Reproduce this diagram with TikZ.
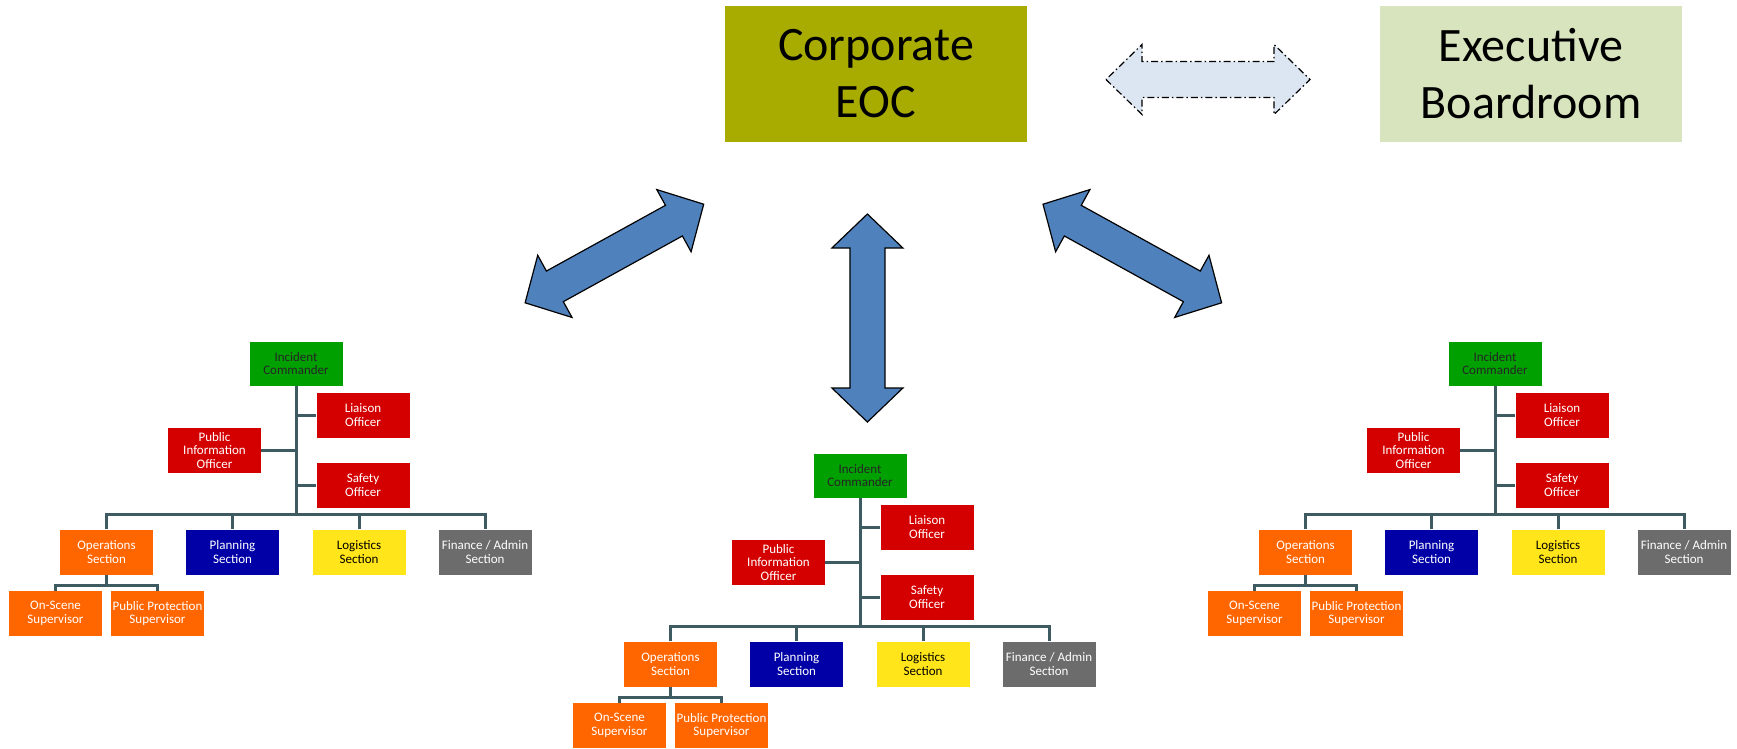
\documentclass[tikz,border=0pt]{standalone}
\usepackage{fontspec}
\setmainfont{Carlito}

\definecolor{eocolive}{RGB}{168,172,0}
\definecolor{boardgreen}{RGB}{215,228,189}
\definecolor{linkblue}{RGB}{220,230,242}
\definecolor{arrowblue}{RGB}{79,129,189}
\definecolor{icgreen}{RGB}{0,160,0}
\definecolor{offred}{RGB}{212,0,0}
\definecolor{secorange}{RGB}{255,102,0}
\definecolor{secblue}{RGB}{0,0,166}
\definecolor{secyellow}{RGB}{255,229,26}
\definecolor{secgray}{RGB}{108,108,108}
\definecolor{linegray}{RGB}{63,91,98}

\newcommand{\topfont}{\fontsize{48}{57}\selectfont}
\newcommand{\orgfont}{\fontsize{13}{13.8}\selectfont}

\tikzset{
	topbox/.style={minimum width=302pt, minimum height=136pt, inner sep=0pt, align=center, font=\topfont},
	orgbox/.style={minimum width=93pt, minimum height=45pt, inner sep=1pt, align=center, font=\orgfont, text=white},
	orgline/.style={draw=linegray, line width=3pt},
	bluearrow/.style={fill=arrowblue, draw=black, line width=1.2pt, line join=miter},
	linkarrow/.style={fill=linkblue, draw=black, line width=1.2pt, dash pattern=on 7pt off 3pt on 1.5pt off 3pt}
}

\begin{document}
\begin{tikzpicture}[x=1pt,y=-1pt]
	\useasboundingbox (0,0) rectangle (1737,748);

	% Corporate level
	\node[topbox,fill=eocolive] (eoc) at (876,74) {Corporate\\EOC};
	\node[topbox,fill=boardgreen] (board) at (1531,74) {Executive\\Boardroom};

	% Dash-dot link between EOC and boardroom
	\draw[linkarrow,shift={(1208,79.5)}] (-102,0) -- (-66,35) -- (-66,18) -- (66,18) -- (66,35) -- (102,0)
		-- (66,-35) -- (66,-18) -- (-66,-18) -- (-66,-35) -- cycle;

	% Block arrows down to the sites
	\foreach \ax/\ay/\ang/\hl in {614.4/253.5/28.9/102, 867.4/318/90/104, 1132.3/253.5/-28.9/102}
		\draw[bluearrow,shift={(\ax,\ay)},rotate=\ang] (-\hl,0) -- ({34-\hl},35.5) -- ({34-\hl},17.5)
			-- ({\hl-34},17.5) -- ({\hl-34},35.5) -- (\hl,0) -- ({\hl-34},-35.5) -- ({\hl-34},-17.5)
			-- ({34-\hl},-17.5) -- ({34-\hl},-35.5) -- cycle;

	% Incident command charts (left, middle, right)
	\foreach \ch/\ox/\oy in {L/296/363.5, M/860/475.5, R/1495/363.5} {
	\begin{scope}[shift={(\ox,\oy)}]
		\node[orgbox,fill=icgreen,text=black!85,minimum height=44pt] (\ch-ic) at (0,0) {Incident\\Commander};
		\node[orgbox,fill=offred] (\ch-lia) at (67,51.5) {Liaison\\Officer};
		\node[orgbox,fill=offred] (\ch-pio) at (-81.5,87) {Public\\Information\\Officer};
		\node[orgbox,fill=offred] (\ch-saf) at (67,121.5) {Safety\\Officer};
		\node[orgbox,fill=secorange] (\ch-ops) at (-189.5,188.5) {Operations\\Section};
		\node[orgbox,fill=secblue] (\ch-pla) at (-63.5,188.5) {Planning\\Section};
		\node[orgbox,fill=secyellow,text=black] (\ch-log) at (63,188.5) {Logistics\\Section};
		\node[orgbox,fill=secgray] (\ch-fin) at (189,188.5) {Finance / Admin\\Section};
		\node[orgbox,fill=secorange] (\ch-ons) at (-240.5,250) {On-Scene\\Supervisor};
		\node[orgbox,fill=secorange] (\ch-pps) at (-138.5,250) {Public Protection\\Supervisor};
		\coordinate (\ch-bus) at (0,150.5);
		\coordinate (\ch-obus) at (-189.5,221.5);

		% Reporting lines
		\draw[orgline] (\ch-ic.south) -- (\ch-bus);
		\draw[orgline] (\ch-lia.west) -- (\ch-lia.west -| \ch-ic.south);
		\draw[orgline] (\ch-pio.east) -- (\ch-pio.east -| \ch-ic.south);
		\draw[orgline] (\ch-saf.west) -- (\ch-saf.west -| \ch-ic.south);
		\draw[orgline] (\ch-ops.north) |- (\ch-bus) -| (\ch-fin.north);
		\draw[orgline] (\ch-pla.north) -- (\ch-pla.north |- \ch-bus);
		\draw[orgline] (\ch-log.north) -- (\ch-log.north |- \ch-bus);
		\draw[orgline] (\ch-ops.south) -- (\ch-obus);
		\draw[orgline] (\ch-ons.north) |- (\ch-obus) -| (\ch-pps.north);
	\end{scope}
	}
\end{tikzpicture}
\end{document}
